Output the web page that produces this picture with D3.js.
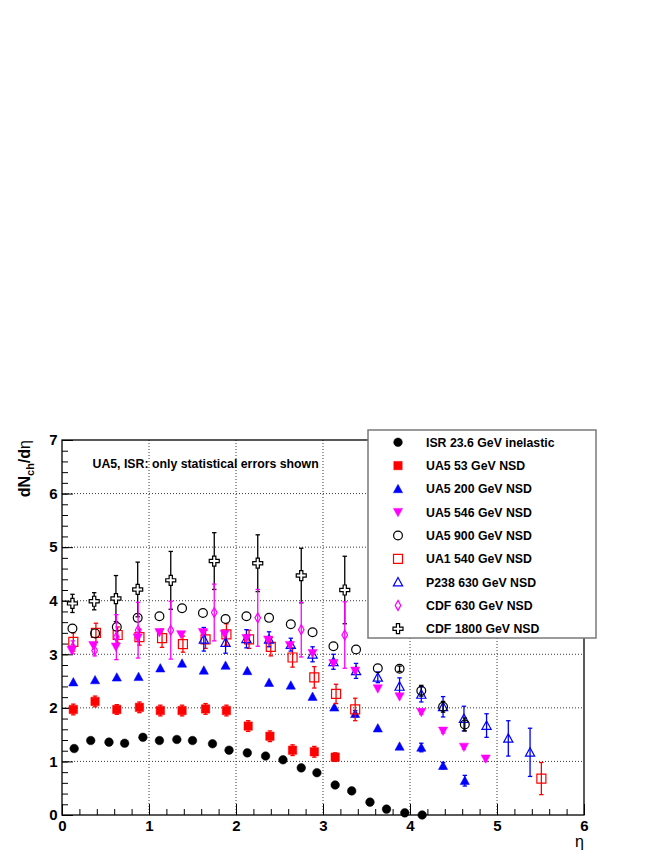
<!DOCTYPE html>
<html>
<head>
<meta charset="utf-8">
<script src="https://cdnjs.cloudflare.com/ajax/libs/d3/7.8.5/d3.min.js"></script>
<style>
  body { margin: 0; background: #fff; }
  svg { display: block; }
  text { font-family: "Liberation Sans", Arial, Helvetica, sans-serif; }
</style>
</head>
<body>
<svg id="chart" width="664" height="860"></svg>
<script>
// ---- data ----
var isrEta = [0.14, 0.33, 0.54, 0.72, 0.93, 1.12, 1.32, 1.50, 1.73, 1.92, 2.13, 2.34, 2.54, 2.75, 2.93, 3.14, 3.33, 3.54, 3.73, 3.94, 4.14];
var isrVal = [1.24, 1.39, 1.36, 1.34, 1.45, 1.39, 1.41, 1.39, 1.33, 1.21, 1.16, 1.10, 1.03, 0.88, 0.79, 0.56, 0.45, 0.24, 0.11, 0.04, 0.00];

var ua53Eta = [0.13, 0.38, 0.63, 0.89, 1.13, 1.38, 1.65, 1.89, 2.14, 2.39, 2.65, 2.90, 3.14];
var ua53Val = [1.97, 2.12, 1.97, 2.01, 1.95, 1.95, 1.98, 1.95, 1.66, 1.47, 1.21, 1.18, 1.08];
var ua53Err = [0.10, 0.10, 0.09, 0.10, 0.10, 0.10, 0.10, 0.10, 0.10, 0.10, 0.10, 0.10, 0.08];

var ua200Eta = [0.13, 0.38, 0.63, 0.88, 1.13, 1.38, 1.63, 1.88, 2.13, 2.38, 2.63, 2.88, 3.13, 3.37, 3.63, 3.88, 4.13, 4.38, 4.63];
var ua200Val = [2.48, 2.52, 2.57, 2.58, 2.74, 2.83, 2.70, 2.79, 2.69, 2.47, 2.42, 2.21, 2.01, 1.89, 1.62, 1.28, 1.26, 0.92, 0.64];
var ua200Err = [0, 0, 0, 0, 0, 0, 0, 0, 0, 0, 0, 0, 0, 0.06, 0, 0, 0.08, 0.06, 0.10];

var ua546Eta = [0.11, 0.36, 0.62, 0.87, 1.12, 1.37, 1.62, 1.87, 2.12, 2.37, 2.62, 2.88, 3.12, 3.37, 3.63, 3.88, 4.13, 4.38, 4.62, 4.87];
var ua546Val = [3.08, 3.17, 3.14, 3.31, 3.41, 3.37, 3.41, 3.38, 3.30, 3.27, 3.17, 3.02, 2.83, 2.69, 2.36, 2.21, 1.92, 1.57, 1.27, 1.05];
var ua546Err = [0, 0, 0, 0, 0, 0, 0, 0, 0, 0, 0, 0, 0, 0, 0, 0, 0.04, 0.04, 0.04, 0.05];

var ua900Eta = [0.12, 0.38, 0.63, 0.87, 1.12, 1.38, 1.62, 1.88, 2.12, 2.38, 2.63, 2.88, 3.12, 3.38, 3.63, 3.88, 4.13, 4.38, 4.63];
var ua900Val = [3.48, 3.39, 3.51, 3.68, 3.71, 3.86, 3.77, 3.66, 3.71, 3.68, 3.56, 3.41, 3.15, 3.09, 2.74, 2.73, 2.32, 2.02, 1.69];
var ua900Err = [0, 0, 0, 0, 0, 0, 0, 0, 0, 0, 0, 0, 0, 0, 0, 0.05, 0.10, 0.10, 0.12];

var ua1Eta = [0.13, 0.39, 0.64, 0.89, 1.15, 1.39, 1.65, 1.89, 2.15, 2.40, 2.65, 2.90, 3.15, 3.37, 5.51];
var ua1Val = [3.23, 3.40, 3.36, 3.32, 3.30, 3.19, 3.28, 3.37, 3.28, 3.14, 2.94, 2.57, 2.26, 1.97, 0.68];
var ua1Err = [0.17, 0.18, 0.15, 0.15, 0.17, 0.15, 0.17, 0.20, 0.17, 0.17, 0.18, 0.20, 0.18, 0.21, 0.30];

var p238Eta = [1.63, 1.88, 2.12, 2.38, 2.63, 2.88, 3.12, 3.38, 3.63, 3.88, 4.13, 4.38, 4.62, 4.88, 5.13, 5.38];
var p238Val = [3.28, 3.22, 3.29, 3.28, 3.18, 3.00, 2.86, 2.69, 2.57, 2.40, 2.25, 2.02, 1.80, 1.67, 1.43, 1.17];
var p238Err = [0.22, 0.20, 0.17, 0.14, 0.12, 0.14, 0.14, 0.14, 0.10, 0.16, 0.14, 0.19, 0.23, 0.22, 0.33, 0.45];

var cdf630Eta = [0.125, 0.375, 0.625, 0.875, 1.25, 1.75, 2.25, 2.75, 3.25];
var cdf630Val = [3.13, 3.07, 3.32, 3.45, 3.45, 3.78, 3.68, 3.46, 3.36];
var cdf630Err = [0.12, 0.10, 0.42, 0.52, 0.54, 0.53, 0.53, 0.51, 0.62];

var cdf1800Eta = [0.12, 0.37, 0.62, 0.87, 1.25, 1.75, 2.25, 2.75, 3.25];
var cdf1800Val = [3.95, 3.99, 4.04, 4.21, 4.38, 4.74, 4.70, 4.47, 4.20];
var cdf1800Err = [0.17, 0.16, 0.43, 0.51, 0.54, 0.53, 0.53, 0.51, 0.63];

var xTicks = [0, 1, 2, 3, 4, 5, 6];
var yTicks = [0, 1, 2, 3, 4, 5, 6, 7];

// ---- series (legend order) ----
var series = [
    { name: 'ISR 23.6 GeV inelastic', eta: isrEta, val: isrVal, err: null, shape: 'circle', color: '#000', fill: true },
    { name: 'UA5 53 GeV NSD', eta: ua53Eta, val: ua53Val, err: ua53Err, shape: 'square', color: '#f00', fill: true },
    { name: 'UA5 200 GeV NSD', eta: ua200Eta, val: ua200Val, err: ua200Err, shape: 'triUp', color: '#00f', fill: true },
    { name: 'UA5 546 GeV NSD', eta: ua546Eta, val: ua546Val, err: ua546Err, shape: 'triDown', color: '#f0f', fill: true },
    { name: 'UA5 900 GeV NSD', eta: ua900Eta, val: ua900Val, err: ua900Err, shape: 'circle', color: '#000', fill: false },
    { name: 'UA1 540 GeV NSD', eta: ua1Eta, val: ua1Val, err: ua1Err, shape: 'square', color: '#f00', fill: false },
    { name: 'P238 630 GeV NSD', eta: p238Eta, val: p238Val, err: p238Err, shape: 'triUp', color: '#00f', fill: false },
    { name: 'CDF 630 GeV NSD', eta: cdf630Eta, val: cdf630Val, err: cdf630Err, shape: 'diamond', color: '#f0f', fill: false },
    { name: 'CDF 1800 GeV NSD', eta: cdf1800Eta, val: cdf1800Val, err: cdf1800Err, shape: 'cross', color: '#000', fill: false }
];

// order in which the graphs are painted
var drawOrder = [8, 0, 1, 2, 5, 6, 4, 3, 7];

var padL = 62, padR = 584, padT = 440, padB = 815;

var x = d3.scaleLinear().domain([0, 6]).range([padL, padR]);
var y = d3.scaleLinear().domain([0, 7]).range([padB, padT]);

var svg = d3.select('#chart');

// marker outlines, centred on 0,0
function markerPath(shape, filled) {
    if (shape === 'circle') {
        var r = filled ? 4.3 : 4.4;
        return 'M' + (-r) + ',0A' + r + ',' + r + ' 0 1,0 ' + r + ',0A' + r + ',' + r + ' 0 1,0 ' + (-r) + ',0Z';
    }
    if (shape === 'square') {
        var h = filled ? 4.2 : 4.5;
        return 'M' + (-h) + ',' + (-h) + 'H' + h + 'V' + h + 'H' + (-h) + 'Z';
    }
    if (shape === 'triUp') return 'M0,-4.6L4.6,3.8L-4.6,3.8Z';
    if (shape === 'triDown') return 'M0,4.6L4.6,-3.8L-4.6,-3.8Z';
    if (shape === 'diamond') return 'M0,-5L2.8,0L0,5L-2.8,0Z';
    if (shape === 'cross') {
        var a = 1.6, b = 5;
        return 'M' + (-a) + ',' + (-b) + 'H' + a + 'V' + (-a) + 'H' + b + 'V' + a + 'H' + a + 'V' + b +
            'H' + (-a) + 'V' + a + 'H' + (-b) + 'V' + (-a) + 'H' + (-a) + 'Z';
    }
    return '';
}

function styleMarker(sel, s) {
    sel.attr('d', markerPath(s.shape, s.fill))
        .attr('fill', s.fill ? s.color : (s.shape === 'cross' ? '#fff' : 'none'))
        .attr('stroke', s.color)
        .attr('stroke-width', s.fill ? 0.5 : 1.2);
}

// ---- grid ----
var grid = svg.append('g').attr('stroke', '#222').attr('stroke-width', 0.9).attr('stroke-dasharray', '1,2');
grid.selectAll('.gx')
    .data(xTicks.slice(1, -1))
    .enter()
    .append('line')
    .attr('x1', function (d) { return x(d); })
    .attr('x2', function (d) { return x(d); })
    .attr('y1', padT)
    .attr('y2', padB);
grid.selectAll('.gy')
    .data(yTicks.slice(1, -1))
    .enter()
    .append('line')
    .attr('x1', padL)
    .attr('x2', padR)
    .attr('y1', function (d) { return y(d); })
    .attr('y2', function (d) { return y(d); });

// ---- axes, ROOT style ticks pointing inward ----
var minorX = d3.range(0, 6.001, 0.2);
var minorY = d3.range(0, 7.001, 0.2);

function cleanAxis(g) {
    g.select('.domain').remove();
    g.selectAll('line').attr('stroke', '#000').attr('stroke-width', 1);
}

svg.append('g')
    .attr('transform', 'translate(0,' + padB + ')')
    .call(d3.axisBottom(x).tickValues(minorX).tickSize(-6).tickFormat(''))
    .call(cleanAxis);
svg.append('g')
    .attr('transform', 'translate(0,' + padB + ')')
    .call(d3.axisBottom(x).tickValues(xTicks).tickSize(-11).tickPadding(5.5).tickFormat(d3.format('d')))
    .call(cleanAxis)
    .selectAll('text')
    .attr('fill', '#000')
    .attr('font-size', 15)
    .attr('font-weight', 'bold');

svg.append('g')
    .attr('transform', 'translate(' + padL + ',0)')
    .call(d3.axisLeft(y).tickValues(minorY).tickSize(-6).tickFormat(''))
    .call(cleanAxis);
svg.append('g')
    .attr('transform', 'translate(' + padL + ',0)')
    .call(d3.axisLeft(y).tickValues(yTicks).tickSize(-11).tickPadding(4.5).tickFormat(d3.format('d')))
    .call(cleanAxis)
    .selectAll('text')
    .attr('fill', '#000')
    .attr('font-size', 15)
    .attr('font-weight', 'bold');

// frame
svg.append('rect')
    .attr('x', padL)
    .attr('y', padT)
    .attr('width', padR - padL)
    .attr('height', padB - padT)
    .attr('fill', 'none')
    .attr('stroke', '#000')
    .attr('stroke-width', 1.3);

// ---- graphs ----
drawOrder.forEach(function (k) {
    var s = series[k];
    var pts = s.eta.map(function (e, i) {
        return { eta: e, val: s.val[i], err: s.err ? s.err[i] : 0 };
    });
    var g = svg.append('g');

    var eb = g.selectAll('.eb')
        .data(pts.filter(function (d) { return d.err > 0; }))
        .enter()
        .append('g')
        .attr('stroke', s.color)
        .attr('stroke-width', 1.3);
    eb.append('line')
        .attr('x1', function (d) { return x(d.eta); })
        .attr('x2', function (d) { return x(d.eta); })
        .attr('y1', function (d) { return y(d.val + d.err); })
        .attr('y2', function (d) { return y(d.val - d.err); });
    eb.append('line')
        .attr('x1', function (d) { return x(d.eta) - 2.2; })
        .attr('x2', function (d) { return x(d.eta) + 2.2; })
        .attr('y1', function (d) { return y(d.val + d.err); })
        .attr('y2', function (d) { return y(d.val + d.err); });
    eb.append('line')
        .attr('x1', function (d) { return x(d.eta) - 2.2; })
        .attr('x2', function (d) { return x(d.eta) + 2.2; })
        .attr('y1', function (d) { return y(d.val - d.err); })
        .attr('y2', function (d) { return y(d.val - d.err); });

    g.selectAll('.mk')
        .data(pts)
        .enter()
        .append('path')
        .attr('transform', function (d) { return 'translate(' + x(d.eta) + ',' + y(d.val) + ')'; })
        .call(styleMarker, s);
});

// ---- texts ----
svg.append('text')
    .attr('x', 92.5)
    .attr('y', 467.5)
    .attr('font-size', 12.3)
    .attr('font-weight', 'bold')
    .text('UA5, ISR: only statistical errors shown');

var ytitle = svg.append('text')
    .attr('transform', 'translate(30,440) rotate(-90)')
    .attr('text-anchor', 'end')
    .attr('font-size', 16)
    .attr('font-weight', 'bold');
ytitle.append('tspan').text('dN');
ytitle.append('tspan').attr('font-size', 11).attr('dy', 4).text('ch');
ytitle.append('tspan').attr('dy', -4).text('/d');
ytitle.append('tspan').attr('font-weight', 'normal').text('η');

svg.append('text')
    .attr('x', padR)
    .attr('y', 847)
    .attr('text-anchor', 'end')
    .attr('font-size', 16)
    .text('η');

// ---- legend ----
var legX = 368, legY = 430, legW = 228, legH = 208;
svg.append('rect')
    .attr('x', legX)
    .attr('y', legY)
    .attr('width', legW)
    .attr('height', legH)
    .attr('fill', '#fff')
    .attr('stroke', '#7a7a7a')
    .attr('stroke-width', 1.5);

var rowH = 23.3;
var leg = svg.selectAll('.leg')
    .data(series)
    .enter()
    .append('g')
    .attr('transform', function (d, i) { return 'translate(' + legX + ',' + (legY + 12.3 + i * rowH) + ')'; });
leg.append('path')
    .attr('transform', 'translate(30,0)')
    .each(function (d) { d3.select(this).call(styleMarker, d); });
leg.append('text')
    .attr('x', 58)
    .attr('y', 4.4)
    .attr('font-size', 12.3)
    .attr('font-weight', 'bold')
    .text(function (d) { return d.name; });
</script>
</body>
</html>
